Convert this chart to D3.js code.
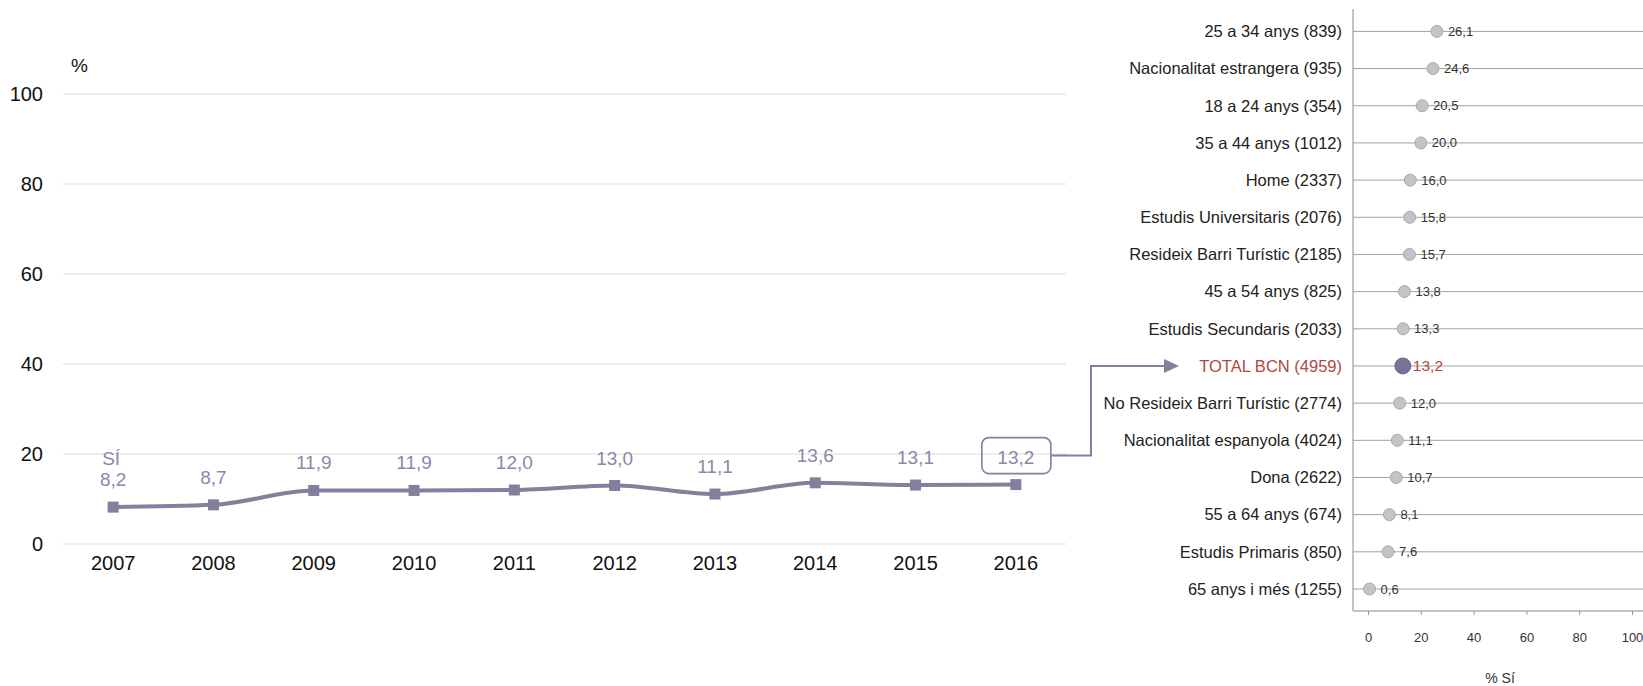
<!DOCTYPE html>
<html>
<head>
<meta charset="utf-8">
<script src="https://cdn.jsdelivr.net/npm/d3@7"></script>
<style>
  body { margin: 0; background: #fff; }
  svg { display: block; font-family: "Liberation Sans", Arial, Helvetica, sans-serif; }
</style>
</head>
<body>
<svg width="1643" height="686"></svg>
<script>
// left chart: yearly series
var years = [2007, 2008, 2009, 2010, 2011, 2012, 2013, 2014, 2015, 2016];
var values = [8.2, 8.7, 11.9, 11.9, 12.0, 13.0, 11.1, 13.6, 13.1, 13.2];
var yTicks = [0, 20, 40, 60, 80, 100];

// right chart: groups for 2016
var groups = ["25 a 34 anys (839)", "Nacionalitat estrangera (935)", "18 a 24 anys (354)",
  "35 a 44 anys (1012)", "Home (2337)", "Estudis Universitaris (2076)",
  "Resideix Barri Turístic (2185)", "45 a 54 anys (825)", "Estudis Secundaris (2033)",
  "TOTAL BCN (4959)", "No Resideix Barri Turístic (2774)", "Nacionalitat espanyola (4024)",
  "Dona (2622)", "55 a 64 anys (674)", "Estudis Primaris (850)", "65 anys i més (1255)"];
var groupValues = [26.1, 24.6, 20.5, 20.0, 16.0, 15.8, 15.7, 13.8, 13.3, 13.2, 12.0, 11.1, 10.7, 8.1, 7.6, 0.6];
var xTicks = [0, 20, 40, 60, 80, 100];
var totalLabel = "TOTAL BCN (4959)";

var purple = "#877d9d",
    labelPurple = "#8e87aa",
    fmt = function (v) { return d3.format(".1f")(v).replace(".", ","); };

var svg = d3.select("svg");

// ---------- left chart ----------
var x = d3.scalePoint().domain(years).range([63, 1066]).padding(0.5);
var y = d3.scaleLinear().domain([0, 100]).range([544, 94]);

var left = svg.append("g");

left.selectAll(".grid")
    .data(yTicks)
    .enter()
    .append("line")
    .attr("class", "grid")
    .attr("x1", 63)
    .attr("x2", 1066)
    .attr("y1", function (d) { return y(d); })
    .attr("y2", function (d) { return y(d); })
    .attr("stroke", "#dcdcdc")
    .attr("stroke-width", 1.2);

left.selectAll(".ylab")
    .data(yTicks)
    .enter()
    .append("text")
    .attr("class", "ylab")
    .attr("x", 43)
    .attr("y", function (d) { return y(d); })
    .attr("dy", "0.35em")
    .attr("text-anchor", "end")
    .attr("font-size", 20)
    .attr("fill", "#111")
    .text(function (d) { return d; });

left.append("text")
    .attr("x", 71)
    .attr("y", 72)
    .attr("font-size", 19)
    .attr("fill", "#111")
    .text("%");

left.selectAll(".xlab")
    .data(years)
    .enter()
    .append("text")
    .attr("class", "xlab")
    .attr("x", function (d) { return x(d); })
    .attr("y", 570)
    .attr("text-anchor", "middle")
    .attr("font-size", 20)
    .attr("fill", "#111")
    .text(function (d) { return d; });

var line = d3.line()
    .x(function (d, i) { return x(years[i]); })
    .y(function (d) { return y(d); })
    .curve(d3.curveMonotoneX);

left.append("path")
    .datum(values)
    .attr("d", line)
    .attr("fill", "none")
    .attr("stroke", purple)
    .attr("stroke-width", 4);

left.selectAll(".mark")
    .data(values)
    .enter()
    .append("rect")
    .attr("class", "mark")
    .attr("x", function (d, i) { return x(years[i]) - 5.5; })
    .attr("y", function (d) { return y(d) - 5.5; })
    .attr("width", 11)
    .attr("height", 11)
    .attr("fill", purple);

left.selectAll(".vlab")
    .data(values)
    .enter()
    .append("text")
    .attr("class", "vlab")
    .attr("x", function (d, i) { return x(years[i]); })
    .attr("y", function (d) { return y(d) - 21; })
    .attr("text-anchor", "middle")
    .attr("font-size", 19)
    .attr("fill", labelPurple)
    .text(function (d) { return fmt(d); });

left.append("text")
    .attr("x", x(years[0]) - 2)
    .attr("y", y(values[0]) - 42)
    .attr("text-anchor", "middle")
    .attr("font-size", 19)
    .attr("fill", labelPurple)
    .text("SÍ");

// highlight box on last value
var lastX = x(years[years.length - 1]),
    lastY = y(values[values.length - 1]) - 29;
left.append("rect")
    .attr("x", lastX - 34)
    .attr("y", lastY - 18)
    .attr("width", 69)
    .attr("height", 36)
    .attr("rx", 7)
    .attr("fill", "none")
    .attr("stroke", purple)
    .attr("stroke-width", 1.6);

// ---------- right chart ----------
var xr = d3.scaleLinear().domain([0, 100]).range([1368, 1632]);
var yr = d3.scalePoint().domain(groups).range([31.4, 589]);
var axisX = 1353, axisBottom = 611;

var right = svg.append("g");

right.append("line")
    .attr("x1", axisX).attr("x2", axisX)
    .attr("y1", 9).attr("y2", axisBottom)
    .attr("stroke", "#b0b0b0")
    .attr("stroke-width", 1.5);

right.append("line")
    .attr("x1", axisX).attr("x2", 1643)
    .attr("y1", axisBottom).attr("y2", axisBottom)
    .attr("stroke", "#b0b0b0")
    .attr("stroke-width", 1.5);

right.selectAll(".row")
    .data(groups)
    .enter()
    .append("line")
    .attr("class", "row")
    .attr("x1", axisX)
    .attr("x2", 1643)
    .attr("y1", function (d) { return yr(d); })
    .attr("y2", function (d) { return yr(d); })
    .attr("stroke", "#a0a0a0")
    .attr("stroke-width", 1);

right.selectAll(".glab")
    .data(groups)
    .enter()
    .append("text")
    .attr("class", "glab")
    .attr("x", 1342)
    .attr("y", function (d) { return yr(d); })
    .attr("dy", "0.35em")
    .attr("text-anchor", "end")
    .attr("font-size", 16.5)
    .attr("fill", function (d) { return d === totalLabel ? "#b2473f" : "#222"; })
    .text(function (d) { return d; });

right.selectAll(".dot")
    .data(groupValues)
    .enter()
    .append("circle")
    .attr("class", "dot")
    .attr("cx", function (d) { return xr(d); })
    .attr("cy", function (d, i) { return yr(groups[i]); })
    .attr("r", function (d, i) { return groups[i] === totalLabel ? 8 : 6; })
    .attr("fill", function (d, i) { return groups[i] === totalLabel ? "#7b7294" : "#c4c4c6"; })
    .attr("stroke", function (d, i) { return groups[i] === totalLabel ? "#6f6788" : "#a9a9ab"; })
    .attr("stroke-width", 1);

right.selectAll(".gval")
    .data(groupValues)
    .enter()
    .append("text")
    .attr("class", "gval")
    .attr("x", function (d, i) { return xr(d) + (groups[i] === totalLabel ? 10 : 11); })
    .attr("y", function (d, i) { return yr(groups[i]); })
    .attr("dy", "0.35em")
    .attr("font-size", function (d, i) { return groups[i] === totalLabel ? 15.5 : 13; })
    .attr("fill", function (d, i) { return groups[i] === totalLabel ? "#b2473f" : "#333"; })
    .text(function (d) { return fmt(d); });

var xAxis = d3.axisBottom(xr).tickValues(xTicks).tickSize(4).tickPadding(18);
var gx = right.append("g")
    .attr("transform", "translate(0," + axisBottom + ")")
    .call(xAxis);
gx.select(".domain").remove();
gx.selectAll(".tick line").attr("stroke", "#999");
gx.selectAll(".tick text")
    .attr("font-size", 13)
    .attr("fill", "#333")
    .attr("font-family", "Liberation Sans, Arial, sans-serif");

right.append("text")
    .attr("x", xr(50))
    .attr("y", 683)
    .attr("text-anchor", "middle")
    .attr("font-size", 14)
    .attr("fill", "#333")
    .text("% Sí");

// ---------- connector from left box to TOTAL row ----------
var totalY = yr(totalLabel),
    boxRight = lastX + 35,
    bendX = 1091,
    arrowTip = 1179;

svg.append("path")
    .attr("d", "M" + boxRight + "," + lastY + "H" + bendX + "V" + totalY + "H" + (arrowTip - 14))
    .attr("fill", "none")
    .attr("stroke", purple)
    .attr("stroke-width", 2);

svg.append("path")
    .attr("d", "M" + (arrowTip - 15) + "," + (totalY - 7) + "L" + arrowTip + "," + totalY + "L" + (arrowTip - 15) + "," + (totalY + 7) + "Z")
    .attr("fill", purple);
</script>
</body>
</html>
